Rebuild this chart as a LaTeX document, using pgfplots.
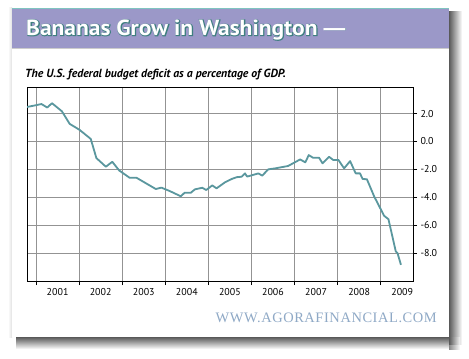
\documentclass[border=0pt]{standalone}
\usepackage{fontspec}
\setmainfont{PT Sans}
\newfontfamily\wmfont{Liberation Serif}
\newfontfamily\titlefont{PT Sans Bold}
\newfontfamily\dashfont{Liberation Sans Bold}
\usepackage{pgfplots}
\pgfplotsset{compat=1.18}
\definecolor{hdr}{HTML}{9B98C8}
\definecolor{hdrline}{HTML}{7FC4C0}
\definecolor{lineteal}{HTML}{5A979E}
\definecolor{wm}{HTML}{8FA9C6}
\definecolor{gridc}{HTML}{939393}
\definecolor{ttlout}{HTML}{3F7F80}
\begin{document}
\begin{tikzpicture}[x=1bp,y=1bp]
\useasboundingbox (0,0) rectangle (469,358);
% shadows
\shade[left color=black!65, right color=white] (449,14) rectangle (462,346);
\shade[top color=black!65, bottom color=white] (16,9) rectangle (449,21);
\shade[left color=black!65, right color=white, opacity=0.7] (449,9) rectangle (460,21);
\shade[left color=white, right color=black!12] (8,21) rectangle (12,350);
% card
\fill[white] (12,21) rectangle (449,350);
\fill[hdr] (12,310) rectangle (449,350);
\draw[hdrline, line width=1bp] (12,349.5) -- (449,349.5);
\draw[black!20, line width=0.8bp] (12,310) -- (449,310);
% title
\node[anchor=base west, inner sep=0pt, text=ttlout] at (26.5,322.5)
  {\fontsize{22}{24}\titlefont\addfontfeature{FakeBold=6,FakeStretch=1.07}Bananas Grow in Washington {\dashfont—}};
\node[anchor=base west, inner sep=0pt, text=white] at (26,323)
  {\fontsize{22}{24}\titlefont\addfontfeature{FakeStretch=1.07}Bananas Grow in Washington {\dashfont—}};
% subtitle
\node[anchor=base west, inner sep=0pt] at (25,281)
  {\fontsize{11.8}{14}\selectfont\bfseries\itshape The U.S. federal budget deficit as a percentage of GDP.};
% watermark
\node[anchor=base east, inner sep=0pt, text=wm] at (437,35.5)
  {\fontsize{14.5}{16}\selectfont\wmfont\addfontfeature{LetterSpace=4}WWW.AGORAFINANCIAL.COM};
\begin{axis}[
  at={(27bp,77bp)}, anchor=south west,
  scale only axis, width=386bp, height=194bp,
  xmin=2000.79, xmax=2009.75, ymin=-10, ymax=3.9,
  axis line style={black, line width=0.8bp},
  grid=major, grid style={gridc, line width=0.5bp},
  tick align=outside, major tick length=4bp,
  xtick={2001,...,2009}, xticklabels={,,,,,,,,},
  xtick pos=bottom,
  extra x ticks={2001.5,2002.5,2003.5,2004.5,2005.5,2006.5,2007.5,2008.5,2009.5},
  extra x tick labels={2001,2002,2003,2004,2005,2006,2007,2008,2009},
  extra x tick style={grid=none, major tick length=0pt},
  xticklabel style={yshift=-3.5bp},
  ytick={-8,-6,-4,-2,0,2},
  yticklabels={-8.0,-6.0,-4.0,-2.0,0.0,2.0},
  ytick pos=right, yticklabel pos=right,
  tick style={black, line width=0.6bp},
  tick label style={font=\fontsize{10}{12}\selectfont},
]
\addplot[color=lineteal, line width=1.8bp, line join=round] coordinates {
(2000.79, 2.47) (2000.96, 2.57) (2001.125, 2.68) (2001.26, 2.43) (2001.37, 2.74)
(2001.6, 2.16) (2001.78, 1.26) (2002.01, 0.83) (2002.27, 0.18) (2002.40, -1.19)
(2002.62, -1.81) (2002.77, -1.46) (2002.93, -2.08) (2003.17, -2.6) (2003.33, -2.6)
(2003.78, -3.41) (2003.91, -3.31) (2004.10, -3.55) (2004.36, -3.93) (2004.45, -3.67)
(2004.59, -3.68) (2004.69, -3.43) (2004.86, -3.32) (2004.95, -3.48) (2005.09, -3.15)
(2005.19, -3.36) (2005.38, -2.94) (2005.55, -2.68) (2005.66, -2.56) (2005.77, -2.53)
(2005.85, -2.29) (2005.90, -2.52) (2006.16, -2.29) (2006.25, -2.45) (2006.39, -2.0)
(2006.55, -1.93) (2006.85, -1.76) (2007.13, -1.29) (2007.25, -1.5) (2007.33, -0.98)
(2007.43, -1.17) (2007.57, -1.17) (2007.65, -1.57) (2007.80, -1.1) (2007.90, -1.33)
(2008.02, -1.33) (2008.15, -1.93) (2008.29, -1.41) (2008.42, -2.29) (2008.52, -2.29)
(2008.58, -2.69) (2008.68, -2.71) (2008.85, -3.95) (2009.08, -5.33) (2009.18, -5.57)
(2009.35, -7.88) (2009.39, -8.0) (2009.47, -8.84)
};
\end{axis}
\end{tikzpicture}
\end{document}
